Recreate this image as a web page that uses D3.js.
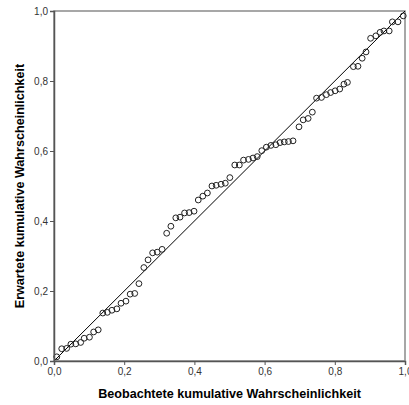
<!DOCTYPE html>
<html lang="de">
<head>
<meta charset="utf-8">
<title>P-P-Diagramm</title>
<script src="https://d3js.org/d3.v7.min.js"></script>
<style>
body { margin: 0; background: #fff; }
svg { display: block; font-family: "Liberation Sans", Arial, sans-serif; }
.tick text { fill: #333; font-size: 10px; }
.axis-title { font-weight: bold; font-size: 12.6px; fill: #000; }
</style>
</head>
<body>
<div id="chart"></div>
<script>

// beobachtete kumulative Wahrscheinlichkeit
var observed = [
    0.008, 0.022, 0.036, 0.048, 0.062, 0.076, 0.086, 0.101, 0.113, 0.126,
    0.139, 0.152, 0.165, 0.179, 0.191, 0.205, 0.217, 0.230, 0.242, 0.256,
    0.268, 0.281, 0.294, 0.308, 0.321, 0.333, 0.347, 0.359, 0.372, 0.385,
    0.399, 0.411, 0.424, 0.437, 0.450, 0.462, 0.476, 0.488, 0.501, 0.515,
    0.528, 0.540, 0.554, 0.567, 0.579, 0.592, 0.605, 0.618, 0.632, 0.644,
    0.656, 0.668, 0.681, 0.698, 0.710, 0.724, 0.736, 0.748, 0.762, 0.776,
    0.788, 0.801, 0.814, 0.826, 0.836, 0.853, 0.866, 0.878, 0.889, 0.902,
    0.917, 0.929, 0.940, 0.955, 0.964, 0.980, 0.995
];

// erwartete kumulative Wahrscheinlichkeit
var expected = [
    0.012, 0.035, 0.036, 0.048, 0.049, 0.053, 0.065, 0.068, 0.083, 0.089,
    0.137, 0.139, 0.145, 0.149, 0.165, 0.171, 0.191, 0.193, 0.221, 0.267,
    0.289, 0.309, 0.311, 0.319, 0.365, 0.385, 0.409, 0.411, 0.423, 0.424,
    0.428, 0.460, 0.471, 0.480, 0.500, 0.502, 0.505, 0.508, 0.524, 0.560,
    0.560, 0.574, 0.576, 0.580, 0.584, 0.601, 0.611, 0.616, 0.618, 0.624,
    0.626, 0.627, 0.629, 0.669, 0.689, 0.693, 0.711, 0.751, 0.753, 0.761,
    0.767, 0.772, 0.777, 0.791, 0.796, 0.841, 0.842, 0.865, 0.883, 0.922,
    0.929, 0.939, 0.943, 0.943, 0.969, 0.969, 0.986
];

var ticks = [0, 0.2, 0.4, 0.6, 0.8, 1.0];

var xTitle = "Beobachtete kumulative Wahrscheinlichkeit";
var yTitle = "Erwartete kumulative Wahrscheinlichkeit";

var width = 409, height = 405;
var margin = {top: 11, right: 4, bottom: 44, left: 54};

var formatComma = d3.formatLocale({decimal: ",", thousands: ".", grouping: [3], currency: ["", "€"]}).format(".1f");

var svg = d3.select("#chart").append("svg")
    .attr("width", width)
    .attr("height", height);

var x = d3.scaleLinear()
    .domain([0, 1])
    .range([margin.left, width - margin.right]);

var y = d3.scaleLinear()
    .domain([0, 1])
    .range([height - margin.bottom, margin.top]);

// rahmen oben / rechts
svg.append("rect")
    .attr("x", x(0))
    .attr("y", y(1))
    .attr("width", x(1) - x(0))
    .attr("height", y(0) - y(1))
    .attr("fill", "none")
    .attr("stroke", "#8a8a8a")
    .attr("stroke-width", 1.5);

// diagonale
svg.append("line")
    .attr("x1", x(0)).attr("y1", y(0))
    .attr("x2", x(1)).attr("y2", y(1))
    .attr("stroke", "#000")
    .attr("stroke-width", 1);

var data = observed.map(function(d, i) { return {x: d, y: expected[i]}; });

svg.append("g")
    .selectAll("circle")
    .data(data)
    .enter().append("circle")
        .attr("cx", function(d) { return x(d.x); })
        .attr("cy", function(d) { return y(d.y); })
        .attr("r", 2.9)
        .attr("fill", "none")
        .attr("stroke", "#222")
        .attr("stroke-width", 1);

var xAxis = svg.append("g")
    .attr("transform", "translate(0," + y(0) + ")")
    .call(d3.axisBottom(x).tickValues(ticks).tickFormat(formatComma).tickSizeOuter(0).tickSize(4).tickPadding(3));

var yAxis = svg.append("g")
    .attr("transform", "translate(" + x(0) + ",0)")
    .call(d3.axisLeft(y).tickValues(ticks).tickFormat(formatComma).tickSizeOuter(0).tickSize(4).tickPadding(2));

[xAxis, yAxis].forEach(function(a) {
    a.select(".domain").attr("stroke", "#555").attr("stroke-width", 1.5);
    a.selectAll(".tick line").attr("stroke", "#555");
    a.selectAll(".tick text").attr("font-family", null).attr("font-size", null);
});

svg.append("text")
    .attr("class", "axis-title")
    .attr("x", (x(0) + x(1)) / 2)
    .attr("y", 398)
    .attr("text-anchor", "middle")
    .text(xTitle);

svg.append("text")
    .attr("class", "axis-title")
    .attr("transform", "translate(24," + (y(0) + y(1)) / 2 + ") rotate(-90)")
    .attr("text-anchor", "middle")
    .text(yTitle);

</script>
</body>
</html>
